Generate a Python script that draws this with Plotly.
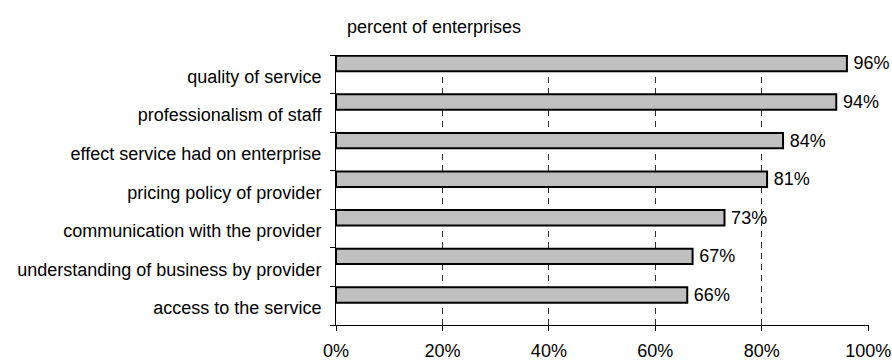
import plotly.graph_objects as go

categories = [
    "quality of service",
    "professionalism of staff",
    "effect service had on enterprise",
    "pricing policy of provider",
    "communication with the provider",
    "understanding of business by provider",
    "access to the service",
]
values = [96, 94, 84, 81, 73, 67, 66]
x_ticks = [0, 20, 40, 60, 80, 100]
x_tick_labels = ["0%", "20%", "40%", "60%", "80%", "100%"]

n = len(categories)
ypos = [n - 1 - i for i in range(n)]

FONT = "Liberation Sans, Arial, sans-serif"
FS = 18

L, R, T, B = 336, 23, 55, 37
W, H = 892, 362
pw = W - L - R

fig = go.Figure()
fig.add_trace(go.Bar(
    x=values,
    y=ypos,
    orientation="h",
    width=0.40,
    offset=0.08,
    marker=dict(color="#c0c0c0", line=dict(color="black", width=2)),
    text=[f"\u2009{v}%" for v in values],
    textposition="outside",
    constraintext="none",
    textfont=dict(family=FONT, size=FS, color="black"),
    cliponaxis=False,
    hoverinfo="skip",
))

fig.update_layout(
    width=W, height=H,
    margin=dict(l=L, r=R, t=T, b=B, autoexpand=False),
    plot_bgcolor="white", paper_bgcolor="white",
    showlegend=False,
    font=dict(family=FONT, size=FS, color="black"),
    bargap=0,
    annotations=[dict(
        text="percent of enterprises",
        x=(345 - L) / pw, xref="paper", xanchor="left",
        y=1, yref="paper", yanchor="middle", yshift=T - 27,
        showarrow=False, font=dict(family=FONT, size=FS, color="black"),
    )],
)

fig.update_xaxes(
    range=[0, 100.15],
    tickvals=x_ticks, ticktext=x_tick_labels,
    ticks="outside", ticklen=5, tickcolor="black", tickwidth=1,
    ticklabelstandoff=4,
    showline=True, linecolor="black", linewidth=1,
    showgrid=True, gridcolor="#303030", gridwidth=1, griddash="6px,5px",
    zeroline=False, automargin=False,
    tickfont=dict(family=FONT, size=FS, color="black"),
    fixedrange=True,
)
fig.update_yaxes(
    range=[-0.5, n - 0.5],
    tickvals=[y - 0.06 for y in ypos], ticktext=categories,
    ticks="", ticklabelstandoff=10,
    showline=True, linecolor="black", linewidth=1,
    showgrid=False, zeroline=False, automargin=False,
    minor=dict(tickvals=[i + 0.5 for i in range(-1, n)], ticks="outside",
               ticklen=5, tickcolor="black", showgrid=False),
    tickfont=dict(family=FONT, size=FS, color="black"),
    fixedrange=True,
)

fig.write_html(
    "out.html",
    config={"displayModeBar": False, "staticPlot": True},
    post_script="document.body.style.margin='0px';document.body.style.overflow='hidden';",
)
